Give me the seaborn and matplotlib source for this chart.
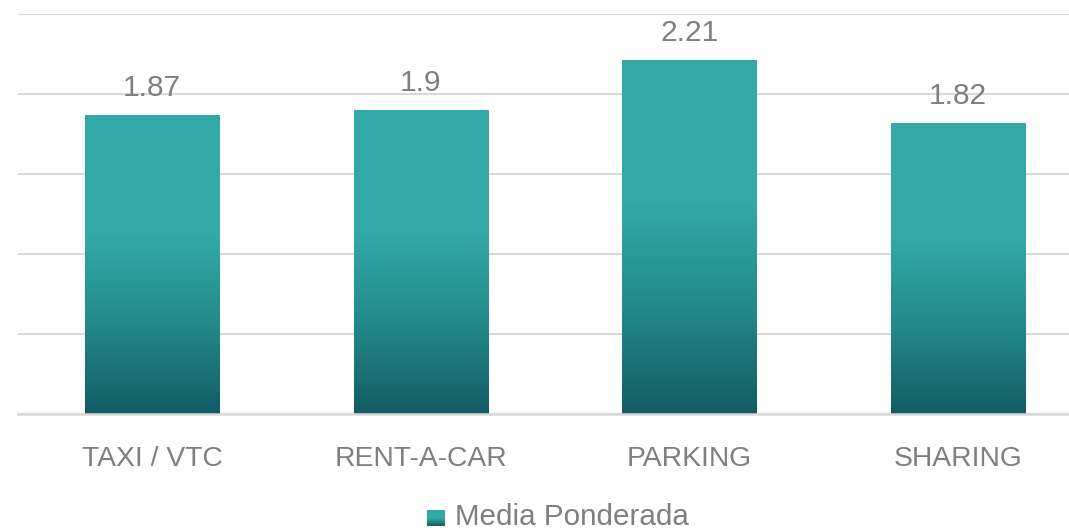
import numpy as np
import pandas as pd
import matplotlib
matplotlib.use("Agg")
import matplotlib.pyplot as plt
import seaborn as sns
from matplotlib.colors import LinearSegmentedColormap

categories = ["TAXI / VTC", "RENT-A-CAR", "PARKING", "SHARING"]
values = [1.87, 1.9, 2.21, 1.82]
series_name = "Media Ponderada"

sns.set_theme(style="white")
plt.rcParams['font.family'] = ['Liberation Sans', 'DejaVu Sans']

W, H = 1069, 531
fig = plt.figure(figsize=(W / 100, H / 100), dpi=100)
ax = fig.add_axes([18 / W, (H - 414) / H, 1074 / W, 400 / H])

df = pd.DataFrame({"cat": categories, "val": values})
sns.barplot(data=df, x="cat", y="val", ax=ax, width=0.5, color="#33AAA8")

ax.set_ylim(0, 2.5)
ax.set_xlim(-0.5, 3.5)
ax.set_yticks(np.arange(0, 2.51, 0.5))
ax.set_yticklabels([])
ax.tick_params(axis='y', length=0)
ax.grid(axis='y', color='#D9D9D9', linewidth=1.5)
ax.set_axisbelow(True)
for s in ['top', 'right', 'left']:
    ax.spines[s].set_visible(False)
ax.spines['bottom'].set_color('#D9D9D9')
ax.spines['bottom'].set_linewidth(1.8)
ax.set_xlabel("")
ax.set_ylabel("")
ax.tick_params(axis='x', length=0, pad=23, labelsize=20.3, labelcolor='#7F7F7F')

cmap = LinearSegmentedColormap.from_list(
    "grad", [(0.0, "#33AAA8"), (0.40, "#33AAA8"), (0.7, "#23898A"), (1.0, "#135C65")])
grad = np.linspace(0, 1, 256).reshape(-1, 1)

for p, v in zip(ax.patches, values):
    x0 = p.get_x()
    w = p.get_width()
    h = p.get_height()
    p.set_facecolor('none')
    p.set_edgecolor('none')
    im = ax.imshow(grad, cmap=cmap, aspect='auto', extent=[x0, x0 + w, 0, h],
                   origin='upper', zorder=2)
    im.set_clip_path(p)
    ax.annotate(f"{v:g}", xy=(x0 + w / 2, h), xytext=(0, 19),
                textcoords='offset pixels', ha='center', va='baseline',
                fontsize=21.5, color='#7F7F7F')

ax.set_xlim(-0.5, 3.5)
ax.set_ylim(0, 2.5)

# legend
lax = fig.add_axes([427 / W, (H - 526) / H, 18 / W, 16 / H])
lax.imshow(np.linspace(0, 1, 64).reshape(-1, 1),
           cmap=LinearSegmentedColormap.from_list("lg", ["#33AAA8", "#33AAA8", "#135C65"]),
           aspect='auto')
lax.set_axis_off()
fig.text(455 / W, (H - 525) / H, series_name, fontsize=21.3, color='#7F7F7F',
         ha='left', va='baseline')

fig.savefig("out.png", dpi=100)
